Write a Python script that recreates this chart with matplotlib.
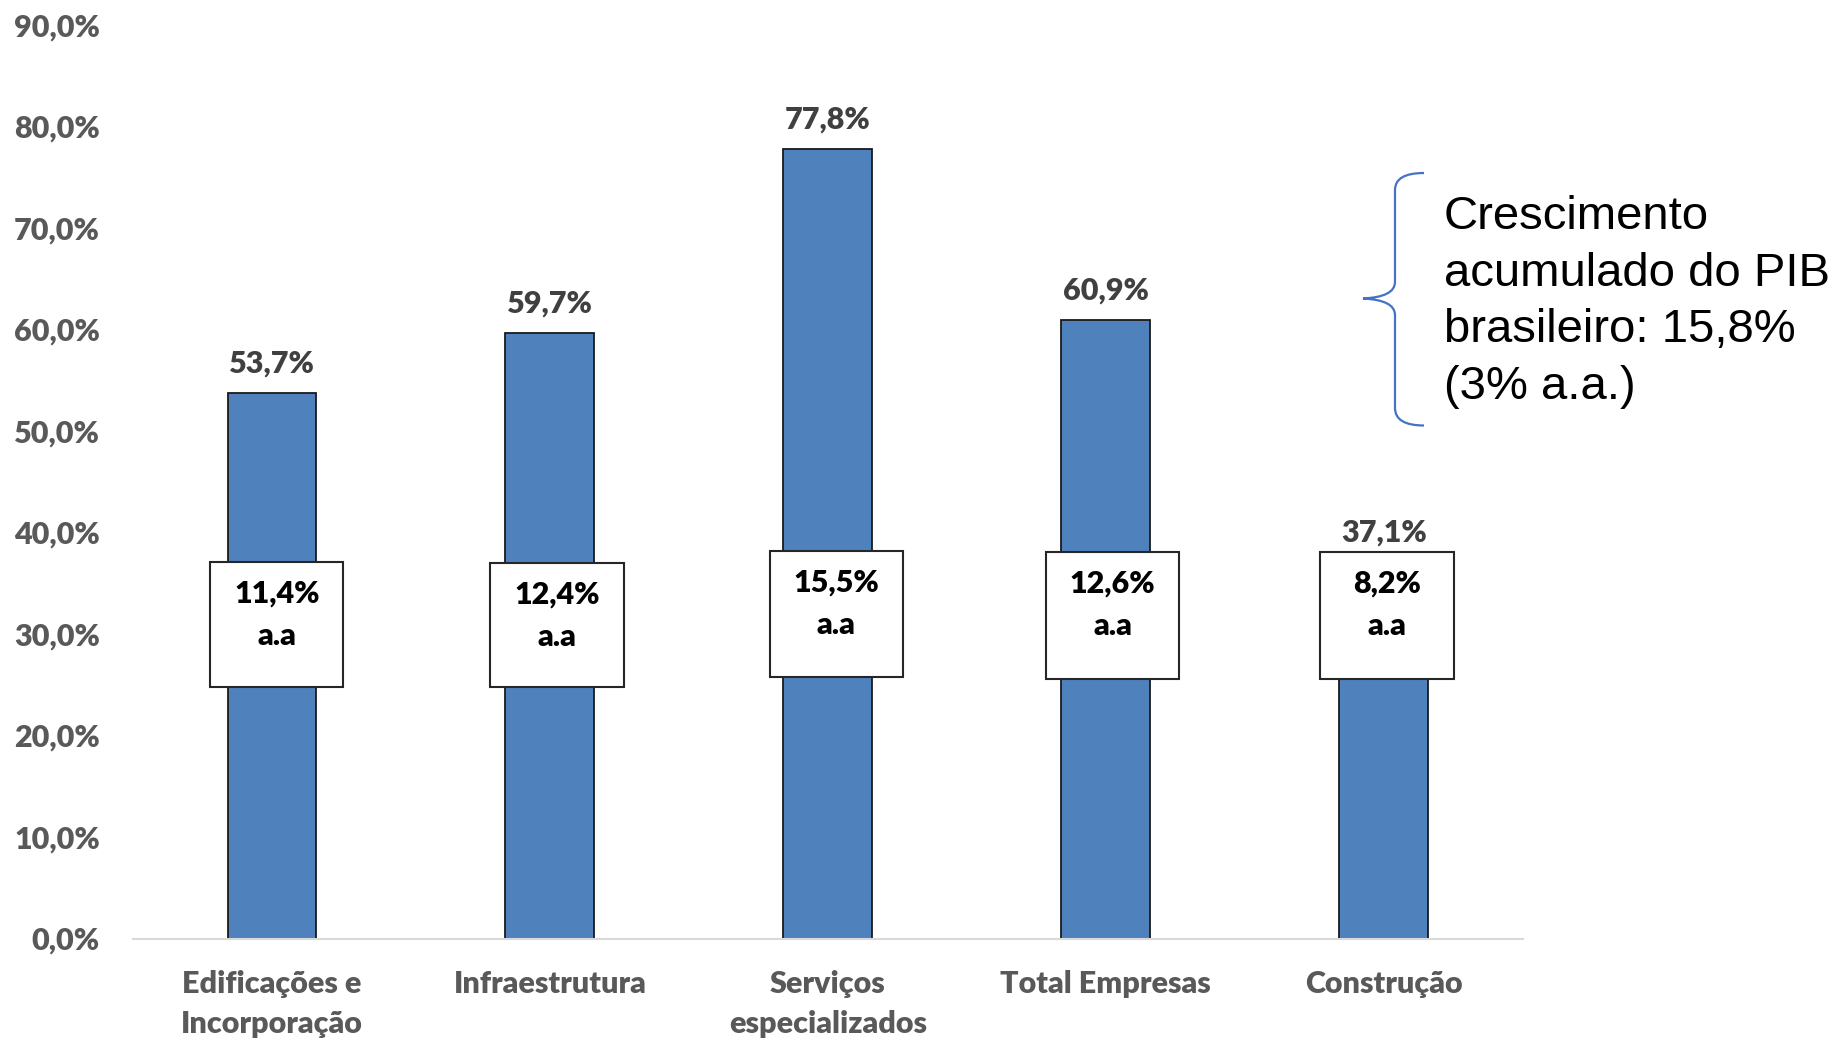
import matplotlib
matplotlib.use("Agg")
import matplotlib.pyplot as plt
from matplotlib.patches import Rectangle, PathPatch
from matplotlib.path import Path

categorias = ["Edificações e\nIncorporação", "Infraestrutura", "Serviços\nespecializados",
              "Total Empresas", "Construção"]
acumulado = [53.7, 59.7, 77.8, 60.9, 37.1]
anual = [11.4, 12.4, 15.5, 12.6, 8.2]
yticks = [0, 10, 20, 30, 40, 50, 60, 70, 80, 90]

# caixas com a taxa anual (limites em % do eixo)
caixa_topo = [37.1, 37.0, 38.2, 38.1, 38.1]
caixa_base = [24.8, 24.8, 25.8, 25.6, 25.6]
caixa_dx = [0.017, 0.025, 0.03, 0.025, 0.012]

def pt(v):
    return f"{v:.1f}".replace(".", ",") + "%"

plt.rcParams['font.family'] = ['Lato', 'DejaVu Sans']
PESO = "heavy"

fig = plt.figure(figsize=(18.43, 10.42), dpi=100)
ax = fig.add_axes([0.0722, 0.0993, 0.754, 0.8767])

x = list(range(len(categorias)))
ax.bar(x, acumulado, width=0.32, color="#4F81BD", edgecolor="#1a1a1a", linewidth=1.3, zorder=2)

for i, v in enumerate(acumulado):
    ax.text(i, v + 2.9, pt(v), ha="center", va="center", fontsize=22,
            fontweight=PESO, color="#404040")

for i, a in enumerate(anual):
    cx = i + caixa_dx[i]
    ax.add_patch(Rectangle((cx - 0.24, caixa_base[i]), 0.48, caixa_topo[i] - caixa_base[i],
                           facecolor="white", edgecolor="#262626", linewidth=1.5, zorder=3))
    ax.text(cx, caixa_topo[i] - 3.1, pt(a), ha="center", va="center", fontsize=22,
            fontweight=PESO, color="black", zorder=4)
    ax.text(cx, caixa_topo[i] - 7.3, "a.a", ha="center", va="center", fontsize=22,
            fontweight=PESO, color="black", zorder=4)

ax.set_xlim(-0.5, 4.5)
ax.set_ylim(0, 90)
ax.set_yticks(yticks)
ax.set_yticklabels([pt(t) for t in yticks], fontsize=22, fontweight=PESO, color="#595959")
ax.set_xticks(x)
ax.set_xticklabels(categorias, fontsize=22, fontweight=PESO, color="#595959",
                   linespacing=1.5, va="top")
ax.tick_params(axis="both", length=0)
ax.tick_params(axis="y", pad=24)
ax.tick_params(axis="x", pad=23)
for s in ["top", "right", "left"]:
    ax.spines[s].set_visible(False)
ax.spines["bottom"].set_color("#D9D9D9")
ax.spines["bottom"].set_linewidth(1.5)

# chave (brace) em coordenadas de pixel da figura
W, H = 1843, 1042
def f(px, py):
    return (px / W, 1 - py / H)

verts = [f(1424, 173), f(1395, 173), f(1395, 190), f(1395, 190),
         f(1395, 282), f(1395, 297), f(1363, 298.5),
         f(1395, 300), f(1395, 315), f(1395, 408),
         f(1395, 425.5), f(1424, 425.5)]
codes = [Path.MOVETO, Path.CURVE3, Path.CURVE3, Path.LINETO,
         Path.LINETO, Path.CURVE3, Path.CURVE3,
         Path.CURVE3, Path.CURVE3, Path.LINETO,
         Path.CURVE3, Path.CURVE3]
fig.add_artist(PathPatch(Path(verts, codes), transform=fig.transFigure,
                         facecolor="none", edgecolor="#4472C4", linewidth=1.6))

fig.text(1444 / W, 1 - 302 / H, "Crescimento\nacumulado do PIB\nbrasileiro: 15,8%\n(3% a.a.)",
         ha="left", va="center", fontsize=34, family="Liberation Sans",
         color="black", linespacing=1.38)

fig.savefig("out.png", dpi=100)
